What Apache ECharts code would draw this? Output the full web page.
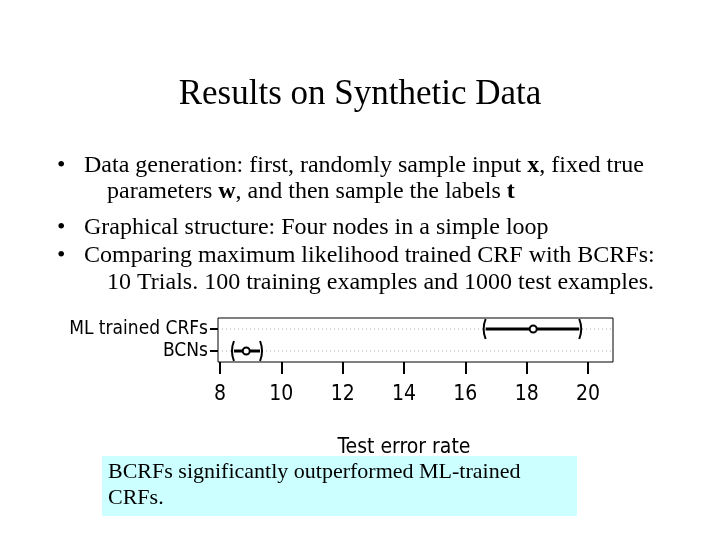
<!DOCTYPE html><html><head><meta charset="utf-8"><script src="https://cdn.jsdelivr.net/npm/echarts@6/dist/echarts.min.js"></script>
<style>html,body{margin:0;background:#fff}#c{width:720px;height:540px}</style></head><body><div id="c"></div><script>
const categories=['BCNs','ML trained CRFs'];
const lowVals=[8.45,16.65];
const meanVals=[8.85,18.2];
const highVals=[9.3,19.7];
const tickMin=8,tickMax=20,tickStep=2;
const chart=echarts.init(document.getElementById('c'));
const serif='Liberation Serif, Times New Roman, serif';
const narrow='DejaVu Sans Condensed, Liberation Sans Narrow, sans-serif';
function t(x,y,str,size){return {type:'text',left:x,top:y,style:{text:str,font:size+'px '+serif,fill:'#000',rich:{b:{fontFamily:serif,fontSize:size,fontWeight:'bold'}}}};}
const data=categories.map((c,i)=>[i,lowVals[i],meanVals[i],highVals[i]]);
chart.setOption({
animation:false,
graphic:[
 {type:'text',left:'center',top:77,style:{text:'Results on Synthetic Data',font:'35px '+serif,fill:'#000'}},
 t(57,154,'•',24),t(84,154,'Data generation: first, randomly sample input {b|x}, fixed true',24),
 t(107,180,'parameters {b|w}, and then sample the labels {b|t}',24),
 t(57,216,'•',24),t(84,216,'Graphical structure: Four nodes in a simple loop',24),
 t(57,244,'•',24),t(84,244,'Comparing maximum likelihood trained CRF with BCRFs:',24),
 t(107,271,'10 Trials. 100 training examples and 1000 test examples.',24),
 {type:'rect',shape:{x:102,y:456,width:475,height:60},style:{fill:'#ccffff'}},
 t(108,461,'BCRFs significantly outperformed ML-trained',22),
 t(108,487,'CRFs.',22)
],
grid:[{left:218,right:107,top:318,height:44,show:true,borderColor:'#000',borderWidth:1},
      {left:220,right:132,top:318,height:44}],
xAxis:[{gridIndex:0,type:'value',min:7.93,max:20.8,axisLabel:{show:false},axisTick:{show:false},splitLine:{show:false},axisLine:{show:false}},
 {gridIndex:1,type:'value',min:tickMin,max:tickMax,interval:tickStep,axisLine:{show:false},axisTick:{show:true,length:12,lineStyle:{color:'#000',width:2}},
  splitLine:{show:false},axisLabel:{margin:22,color:'#000',fontFamily:narrow,fontSize:21},
  name:'Test error rate',nameLocation:'middle',nameGap:75,nameTextStyle:{color:'#000',fontFamily:narrow,fontSize:21}}],
yAxis:[{gridIndex:0,type:'category',data:categories,boundaryGap:true,axisLine:{show:false},
  axisTick:{show:true,length:8,alignWithLabel:true,lineStyle:{color:'#000',width:2}},
  axisLabel:{interval:0,color:'#000',fontFamily:narrow,fontSize:19,margin:10},
  splitLine:{show:false}},
 {gridIndex:1,type:'category',data:categories,show:false}],
series:[{type:'custom',xAxisIndex:0,yAxisIndex:0,data:data,encode:{x:[1,2,3],y:0},
 renderItem:function(p,api){
  const y=api.value(0);
  const a=api.coord([api.value(1),y]),m=api.coord([api.value(2),y]),b=api.coord([api.value(3),y]);
  const cs=p.coordSys;
  const h=10;
  return {type:'group',children:[
   {type:'line',shape:{x1:cs.x,y1:a[1],x2:cs.x+cs.width,y2:a[1]},style:{stroke:'#aaa',lineWidth:1,lineDash:[1,3]}},
   {type:'line',shape:{x1:a[0],y1:a[1],x2:b[0],y2:b[1]},style:{stroke:'#000',lineWidth:3}},
   {type:'bezierCurve',shape:{x1:a[0],y1:a[1]-h,cpx1:a[0]-4,cpy1:a[1],x2:a[0],y2:a[1]+h},style:{stroke:'#000',lineWidth:2,fill:null}},
   {type:'bezierCurve',shape:{x1:b[0],y1:b[1]-h,cpx1:b[0]+4,cpy1:b[1],x2:b[0],y2:b[1]+h},style:{stroke:'#000',lineWidth:2,fill:null}},
   {type:'circle',shape:{cx:m[0],cy:m[1],r:3.5},style:{stroke:'#000',lineWidth:2,fill:'#fff'}}
  ]};
 }}
]});
</script></body></html>
